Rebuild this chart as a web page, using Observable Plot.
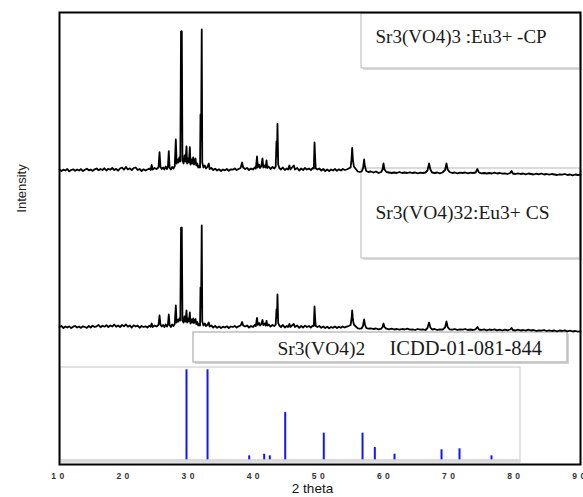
<!DOCTYPE html>
<html><head><meta charset="utf-8">
<script src="https://cdn.jsdelivr.net/npm/d3@7"></script>
<script src="https://cdn.jsdelivr.net/npm/@observablehq/plot@0.6"></script>
<style>body{margin:0;background:#fff}</style>
</head><body><div id="chart"></div>
<script>
// ---------- data ----------
const xTicks = [10, 20, 30, 40, 50, 60, 70, 80, 90];
const xLabel = "2 theta";
const yLabel = "Intensity";
const cpLabel = "Sr3(VO4)3 :Eu3+ -CP";
const csLabel = "Sr3(VO4)32:Eu3+ CS";
const refPhase = "Sr3(VO4)2";
const refCard = "ICDD-01-081-844";

// [2theta, counts above background] - sample CP
const cpPattern = [
[10.0,10],[10.3,-5],[10.6,8],[10.9,0],[11.2,15],[11.5,-8],[11.8,5],[12.1,12],[12.4,-3],[12.7,10],[13.0,0],[13.3,14],[13.6,-6],[13.9,8],[14.2,18],[14.5,2],[14.8,10],[15.1,-4],[15.4,12],[15.7,20],[16.0,3],[16.3,15],[16.6,5],[16.9,22],[17.2,0],[17.5,18],[17.8,8],[18.1,25],[18.4,5],[18.7,16],[19.0,-2],[19.3,20],[19.6,30],[19.9,8],[20.2,35],[20.5,10],[20.8,22],[21.1,3],[21.4,25],[21.7,30],[22.0,5],[22.3,15],[22.6,-5],[22.9,12],[23.2,0],[23.5,10],[23.8,20],[24.0,5],[24.15,55],[24.3,10],[24.6,25],[24.9,15],[25.2,30],[25.36,183],[25.5,35],[25.7,15],[25.9,30],[26.1,10],[26.3,40],[26.5,15],[26.65,35],[26.78,193],[26.9,30],[27.1,10],[27.3,35],[27.5,20],[27.7,45],[27.86,310],[27.98,70],[28.1,110],[28.25,80],[28.4,130],[28.55,90],[28.66,1390],[28.78,1393],[28.88,100],[29.05,70],[29.2,150],[29.35,90],[29.5,240],[29.6,70],[29.75,120],[29.88,80],[30.01,233],[30.12,60],[30.25,110],[30.4,70],[30.53,130],[30.65,60],[30.78,90],[30.88,120],[31.0,50],[31.15,70],[31.3,30],[31.45,45],[31.58,30],[31.65,560],[31.74,300],[31.84,1410],[31.92,80],[32.1,30],[32.3,50],[32.5,20],[32.7,35],[32.92,70],[33.05,15],[33.3,25],[33.6,5],[33.9,18],[34.2,0],[34.5,12],[34.8,-5],[35.1,10],[35.4,2],[35.7,15],[36.0,-3],[36.3,12],[36.6,8],[36.9,20],[37.2,5],[37.5,15],[37.8,25],[38.04,80],[38.2,30],[38.5,15],[38.8,25],[39.1,5],[39.4,20],[39.7,10],[40.0,30],[40.15,20],[40.33,140],[40.45,30],[40.65,60],[40.8,25],[41.0,45],[41.17,120],[41.3,30],[41.5,50],[41.65,30],[41.79,100],[41.9,25],[42.1,40],[42.4,15],[42.7,35],[43.0,20],[43.2,40],[43.32,290],[43.4,150],[43.47,467],[43.58,60],[43.75,25],[44.0,10],[44.3,30],[44.6,5],[44.9,20],[45.1,10],[45.3,50],[45.45,10],[45.7,30],[45.98,50],[46.15,10],[46.5,25],[46.8,0],[47.1,20],[47.4,5],[47.7,25],[48.0,10],[48.3,20],[48.6,5],[48.9,25],[49.05,20],[49.16,280],[49.25,130],[49.35,20],[49.6,10],[49.9,20],[50.2,0],[50.5,15],[50.8,-5],[51.1,10],[51.4,-5],[51.7,10],[52.0,0],[52.3,15],[52.6,-3],[52.9,12],[53.2,0],[53.5,15],[53.8,5],[54.1,10],[54.4,20],[54.7,30],[54.85,120],[54.94,225],[55.05,110],[55.2,40],[55.5,15],[55.8,-10],[56.1,-15],[56.4,-10],[56.6,20],[56.77,110],[56.9,40],[57.1,-5],[57.4,-15],[57.8,-10],[58.2,-20],[58.6,-10],[59.0,-25],[59.4,-15],[59.6,10],[59.75,70],[59.9,10],[60.2,-15],[60.6,-20],[61.0,-25],[61.4,-20],[61.8,-25],[62.2,-15],[62.6,-25],[63.0,-20],[63.4,-25],[63.8,-18],[64.2,-25],[64.6,-20],[65.0,-28],[65.4,-22],[65.8,-25],[66.2,-20],[66.5,0],[66.75,70],[66.95,10],[67.2,-20],[67.6,-25],[68.0,-20],[68.4,-28],[68.8,-20],[69.2,5],[69.42,70],[69.6,10],[69.9,-15],[70.3,-25],[70.7,-20],[71.1,-28],[71.5,-22],[71.9,-25],[72.3,-20],[72.7,-28],[73.1,-22],[73.5,-25],[73.9,-20],[74.18,15],[74.4,-20],[74.8,-28],[75.2,-25],[75.6,-30],[76.0,-25],[76.4,-30],[76.8,-22],[77.2,-30],[77.6,-25],[78.0,-32],[78.4,-28],[78.8,-35],[79.2,-25],[79.41,-5],[79.6,-30],[80.0,-35],[80.4,-28],[80.8,-35],[81.2,-30],[81.6,-38],[82.0,-30],[82.4,-35],[82.8,-40],[83.2,-32],[83.6,-38],[84.0,-30],[84.4,-40],[84.8,-35],[85.2,-42],[85.6,-35],[86.0,-40],[86.4,-45],[86.8,-38],[87.2,-42],[87.6,-35],[88.0,-45],[88.4,-40],[88.8,-48],[89.2,-40],[89.6,-45],[90.0,-42]
];

// [2theta, counts above background] - sample CS
const csPattern = [
[10.0,5],[10.3,15],[10.6,-5],[10.9,10],[11.2,0],[11.5,12],[11.8,-6],[12.1,8],[12.4,15],[12.7,0],[13.0,10],[13.3,-4],[13.6,12],[13.9,5],[14.2,-3],[14.5,15],[14.8,0],[15.1,18],[15.4,5],[15.7,12],[16.0,25],[16.3,3],[16.6,18],[16.9,8],[17.2,22],[17.5,5],[17.8,20],[18.1,10],[18.4,28],[18.7,8],[19.0,20],[19.3,5],[19.6,25],[19.9,12],[20.2,30],[20.5,8],[20.8,20],[21.1,0],[21.4,22],[21.7,10],[22.0,18],[22.3,-2],[22.6,15],[22.9,5],[23.2,12],[23.5,0],[23.8,18],[24.0,8],[24.15,40],[24.3,5],[24.6,20],[24.9,10],[25.2,25],[25.36,120],[25.5,30],[25.7,10],[25.9,25],[26.1,5],[26.3,30],[26.5,10],[26.65,30],[26.78,130],[26.9,25],[27.1,5],[27.3,30],[27.5,15],[27.7,35],[27.86,220],[27.98,50],[28.1,80],[28.25,60],[28.4,90],[28.55,70],[28.66,997],[28.78,1000],[28.88,70],[29.05,50],[29.2,110],[29.35,60],[29.5,170],[29.6,50],[29.75,90],[29.88,60],[30.01,150],[30.12,40],[30.25,80],[30.4,50],[30.53,90],[30.65,45],[30.78,70],[30.88,85],[31.0,35],[31.15,55],[31.3,20],[31.45,35],[31.58,20],[31.65,400],[31.74,200],[31.84,1020],[31.92,60],[32.1,20],[32.3,40],[32.5,15],[32.7,25],[32.92,50],[33.05,10],[33.3,20],[33.6,0],[33.9,15],[34.2,-3],[34.5,10],[34.8,-5],[35.1,8],[35.4,0],[35.7,12],[36.0,-5],[36.3,10],[36.6,5],[36.9,15],[37.2,0],[37.5,12],[37.8,20],[38.04,55],[38.2,20],[38.5,10],[38.8,20],[39.1,0],[39.4,15],[39.7,5],[40.0,25],[40.15,15],[40.33,95],[40.45,25],[40.65,45],[40.8,20],[41.0,35],[41.17,75],[41.3,25],[41.5,40],[41.65,20],[41.79,65],[41.9,20],[42.1,30],[42.4,10],[42.7,25],[43.0,15],[43.2,30],[43.32,180],[43.4,100],[43.47,330],[43.58,45],[43.75,20],[44.0,5],[44.3,25],[44.6,0],[44.9,15],[45.1,5],[45.3,35],[45.45,5],[45.7,20],[45.98,35],[46.15,5],[46.5,20],[46.8,-3],[47.1,15],[47.4,0],[47.7,18],[48.0,5],[48.3,15],[48.6,0],[48.9,18],[49.05,15],[49.16,210],[49.25,90],[49.35,15],[49.6,5],[49.9,15],[50.2,-3],[50.5,10],[50.8,-5],[51.1,8],[51.4,-8],[51.7,5],[52.0,-3],[52.3,10],[52.6,-5],[52.9,8],[53.2,-3],[53.5,10],[53.8,0],[54.1,8],[54.4,15],[54.7,25],[54.85,90],[54.94,170],[55.05,80],[55.2,30],[55.5,10],[55.8,-8],[56.1,-12],[56.4,-8],[56.6,15],[56.77,80],[56.9,30],[57.1,-5],[57.4,-12],[57.8,-8],[58.2,-15],[58.6,-10],[59.0,-18],[59.4,-12],[59.6,5],[59.75,40],[59.9,5],[60.2,-12],[60.6,-18],[61.0,-12],[61.4,-20],[61.8,-15],[62.2,-22],[62.6,-15],[63.0,-20],[63.4,-12],[63.8,-22],[64.2,-18],[64.6,-25],[65.0,-15],[65.4,-22],[65.8,-18],[66.2,-25],[66.5,-5],[66.75,50],[66.95,0],[67.2,-20],[67.6,-15],[68.0,-25],[68.4,-18],[68.8,-22],[69.2,0],[69.42,60],[69.6,5],[69.9,-18],[70.3,-22],[70.7,-15],[71.1,-25],[71.5,-18],[71.9,-22],[72.3,-15],[72.7,-25],[73.1,-20],[73.5,-25],[73.9,-18],[74.18,5],[74.4,-20],[74.8,-25],[75.2,-18],[75.6,-28],[76.0,-20],[76.4,-25],[76.8,-18],[77.2,-28],[77.6,-22],[78.0,-30],[78.4,-22],[78.8,-28],[79.2,-20],[79.41,-5],[79.6,-25],[80.0,-30],[80.4,-22],[80.8,-30],[81.2,-25],[81.6,-32],[82.0,-22],[82.4,-30],[82.8,-25],[83.2,-35],[83.6,-28],[84.0,-32],[84.4,-25],[84.8,-35],[85.2,-28],[85.6,-35],[86.0,-30],[86.4,-38],[86.8,-30],[87.2,-35],[87.6,-28],[88.0,-38],[88.4,-32],[88.8,-40],[89.2,-35],[89.6,-42],[90.0,-38]
];

// reference card sticks
const refTheta     = [29.50, 32.73, 39.13, 41.43, 42.29, 44.66, 50.58, 56.53, 58.42, 61.44, 68.66, 71.42, 76.33];
const refIntensity = [100,   100,   4.4,   6.2,   4.4,   52.6,  29.6,  29.6,  13.7,  6.2,   11.1,  12.2,  4.4];

// ---------- layout ----------
const W = 583, H = 497, mL = 59, mR = 3, mT = 12, mB = 33;
const xPx = px => 10 + (px - mL) * 80 / (W - mL - mR);
const yPx = px => (H - mB - px) * 10;
const cpBase = yPx(170), csBase = yPx(327), refBase = yPx(459.3), refScale = 9;

const refData = refTheta.map((t, i) => ({t, v: refIntensity[i]}));
const box = (l, r, t, b) => [{x1: xPx(l), x2: xPx(r), y1: yPx(t), y2: yPx(b)}];
const boxOpts = (o) => Object.assign({x1: "x1", x2: "x2", y1: "y1", y2: "y2"}, o);

const cpBox = box(361, 580, 13, 68);
const csBox = box(361, 580, 168, 258);
const refBox = box(193, 567, 332, 362);
const stickBox = box(60, 520, 367, 462);
const stickBand = box(60, 520, 459, 462);

const serif = "Liberation Serif, Times New Roman, serif";

const chart = Plot.plot({
  width: W, height: H,
  marginLeft: mL, marginRight: mR, marginTop: mT, marginBottom: mB,
  style: {fontFamily: "Liberation Sans, Arial, sans-serif", background: "white"},
  x: {domain: [10, 90]},
  y: {domain: [0, (H - mT - mB) * 10], axis: null},
  marks: [
    // annotation boxes (shadow + box)
    Plot.rect(cpBox, boxOpts({fill: "#dcdcdc", dx: 2, dy: 2})),
    Plot.rect(cpBox, boxOpts({fill: "white", stroke: "#c4c4c4", strokeWidth: 1.2})),
    Plot.rect(csBox, boxOpts({fill: "#dcdcdc", dx: 2, dy: 2})),
    Plot.rect(csBox, boxOpts({fill: "white", stroke: "#c4c4c4", strokeWidth: 1.2})),
    Plot.rect(refBox, boxOpts({fill: "#d4d4d4", dx: 2, dy: 2})),
    Plot.rect(refBox, boxOpts({fill: "white", stroke: "#bdbdbd", strokeWidth: 1.5})),
    Plot.rect(stickBox, boxOpts({fill: "white", stroke: "#cfcfcf", strokeWidth: 1.2})),
    Plot.rect(stickBand, boxOpts({fill: "#dadada"})),
    // patterns
    Plot.line(cpPattern, {x: d => d[0], y: d => cpBase + d[1], stroke: "black", strokeWidth: 1.8}),
    Plot.line(csPattern, {x: d => d[0], y: d => csBase + d[1], stroke: "black", strokeWidth: 1.8}),
    Plot.ruleX(refData, {x: "t", y1: () => refBase, y2: d => refBase + d.v * refScale, stroke: "#1414ff", strokeWidth: 2}),
    // labels
    Plot.text([cpLabel], {text: d => d, x: xPx(375), y: yPx(42), textAnchor: "start", lineAnchor: "bottom", fontFamily: serif, fontSize: 19, fill: "#1a1a1a"}),
    Plot.text([csLabel], {text: d => d, x: xPx(375), y: yPx(218), textAnchor: "start", lineAnchor: "bottom", fontFamily: serif, fontSize: 19.5, fill: "#1a1a1a"}),
    Plot.text([refPhase], {text: d => d, x: xPx(277), y: yPx(354), textAnchor: "start", lineAnchor: "bottom", fontFamily: serif, fontSize: 19.5, fill: "#1a1a1a"}),
    Plot.text([refCard], {text: d => d, x: xPx(389), y: yPx(354), textAnchor: "start", lineAnchor: "bottom", fontFamily: serif, fontSize: 20.5, fill: "#1a1a1a"}),
    Plot.text([yLabel], {text: d => d, frameAnchor: "left", dx: -38, y: yPx(188), rotate: -90, textAnchor: "middle", lineAnchor: "middle", fontSize: 13, fill: "#222"}),
    Plot.text([xLabel], {text: d => d, x: xPx(312), frameAnchor: "bottom", dy: 24.5, lineAnchor: "middle", fontSize: 13.5, fill: "#111"}),
    Plot.axisX(xTicks, {tickSize: 0, tickPadding: 8, label: null, fontSize: 8.5}),
    Plot.frame({stroke: "black", strokeWidth: 2})
  ]
});
document.getElementById("chart").appendChild(chart);
d3.select(chart).selectAll('g[aria-label="x-axis tick label"] text')
  .attr("letter-spacing", "3.5px").attr("font-weight", "bold").attr("fill", "#333");
</script>
</body></html>
